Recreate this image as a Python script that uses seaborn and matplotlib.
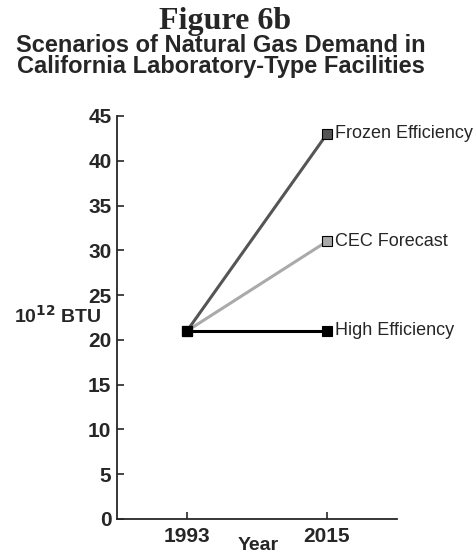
import numpy as np
import pandas as pd
import matplotlib
matplotlib.use('Agg')
import matplotlib.pyplot as plt
import seaborn as sns

years = [1993, 2015]
scenarios = ['Frozen Efficiency', 'CEC Forecast', 'High Efficiency']
frozen = [21, 43]
cec = [21, 31]
high = [21, 21]

sns.set_style('ticks')
plt.rcParams['font.family'] = ['Liberation Sans', 'DejaVu Sans']

df = pd.DataFrame({
    'Year': years * 3,
    'Demand': frozen + cec + high,
    'Scenario': np.repeat(scenarios, 2),
})

couleurs = {'Frozen Efficiency': '#555555',
            'CEC Forecast': '#aaaaaa',
            'High Efficiency': '#000000'}

fig = plt.figure(figsize=(4.77, 5.52), dpi=100)
ax = fig.add_axes([117 / 477, 33 / 552, 280 / 477, 403 / 552])

# high efficiency drawn last so it sits on top
for nom in ['CEC Forecast', 'Frozen Efficiency', 'High Efficiency']:
    sub = df[df['Scenario'] == nom]
    sns.lineplot(data=sub, x='Year', y='Demand', ax=ax, color=couleurs[nom],
                 lw=2.2, marker='s', markersize=7, markeredgecolor='black',
                 markeredgewidth=0.8, markerfacecolor=couleurs[nom], legend=False)
    ax.text(sub['Year'].iloc[-1] + 1.3, sub['Demand'].iloc[-1], nom,
            fontsize=13, va='center', ha='left')

ax.set_xlim(1982, 2026)
ax.set_ylim(0, 45)
ax.set_xticks(years)
ax.set_yticks(range(0, 46, 5))
ax.tick_params(axis='both', direction='in', length=5, width=1.2, labelsize=15)
ax.tick_params(axis='x', pad=6)
ax.tick_params(axis='y', pad=4)
for lab in ax.get_xticklabels() + ax.get_yticklabels():
    lab.set_fontweight('bold')
sns.despine(ax=ax)
ax.spines['left'].set_linewidth(1.3)
ax.spines['bottom'].set_linewidth(1.3)

ax.set_xlabel('')
ax.set_ylabel('')
fig.text(258 / 477, 1 - 545 / 552, 'Year', fontsize=14, fontweight='bold',
         ha='center', va='center')
fig.text(58 / 477, 1 - 316 / 552, r'10$^{\mathbf{12}}$ BTU', fontsize=14,
         fontweight='bold', ha='center', va='center')

fig.text(225 / 477, 1 - 21 / 552, 'Figure 6b', fontsize=23, fontweight='bold',
         family='Liberation Serif', ha='center', va='center')
fig.text(221 / 477, 1 - 56 / 552,
         'Scenarios of Natural Gas Demand in\nCalifornia Laboratory-Type Facilities',
         fontsize=17, fontweight='bold', ha='center', va='center', linespacing=0.92)

fig.savefig('out.png', dpi=100)
